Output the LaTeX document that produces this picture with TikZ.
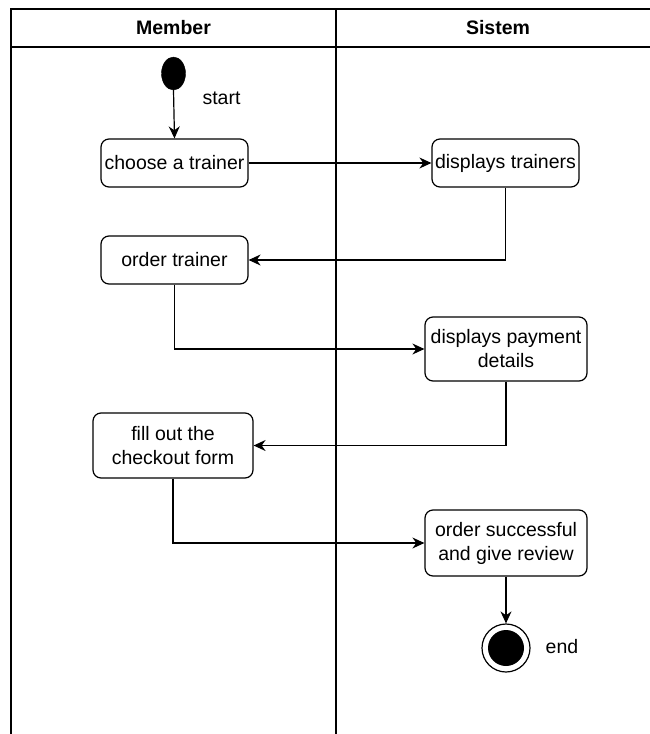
\documentclass[tikz,border=0pt]{standalone}
\usepackage{fontspec}
\setmainfont{Liberation Sans}
\usetikzlibrary{arrows.meta,shapes.geometric}
\begin{document}
\begin{tikzpicture}[x=1pt,y=-1pt,
  lane/.style={line width=1.2pt},
  act/.style={draw,line width=1.2pt,rounded corners=8pt,inner sep=0pt,align=center,
    font=\fontsize{19.5}{24}\selectfont},
  lbl/.style={font=\fontsize{19.5}{24}\selectfont,inner sep=0pt},
  hdr/.style={font=\bfseries\fontsize{19.5}{24}\selectfont,inner sep=0pt},
  flow/.style={line width=1.2pt,-{Stealth[length=12pt,width=11pt]}}]
\useasboundingbox (0,0) rectangle (649,734);
% swimlanes
\coordinate (tl) at (11,9);
\coordinate (tr) at (652,9);
\coordinate (hl) at (11,47);
\coordinate (hr) at (652,47);
\coordinate (bl) at (11,736);
\coordinate (dt) at (336,9);
\coordinate (db) at (336,736);
\draw[lane] (bl) -- (tl) -- (tr);
\draw[lane] (hl) -- (hr);
\draw[lane] (dt) -- (db);
\node[hdr] (hm) at (173.5,28) {Member};
\node[hdr] (hs) at (498,28) {Sistem};
% nodes
\node[ellipse,fill=black,draw,minimum width=24pt,minimum height=33pt,inner sep=0pt] (start) at (173.5,73.5) {};
\node[lbl] (startl) at (221.5,98) {start};
\node[act,minimum width=147pt,minimum height=48pt] (choose) at (174.5,163) {choose a trainer};
\node[act,minimum width=147pt,minimum height=48pt] (dtrain) at (505.5,163) {displays trainers};
\node[act,minimum width=147pt,minimum height=48pt] (order) at (174.5,260) {order trainer};
\node[act,minimum width=162pt,minimum height=64pt] (pay) at (506,349) {displays payment\\details};
\node[act,minimum width=160pt,minimum height=65pt] (fill) at (173,445.5) {fill out the\\checkout form};
\node[act,minimum width=162pt,minimum height=66pt] (succ) at (506,543) {order successful\\and give review};
\node[circle,draw,line width=1.2pt,minimum size=48pt,inner sep=0pt] (end) at (506,648) {};
\node[circle,fill=black,minimum size=36pt,inner sep=0pt] (endin) at (end.center) {};
\node[lbl] (endl) at (562,647) {end};
% flows
\draw[flow] (start.south) -- (choose.north);
\draw[flow] (choose) -- (dtrain);
\draw[flow] (dtrain.south) |- (order.east);
\draw[flow] (order.south) |- (pay.west);
\draw[flow] (pay.south) |- (fill.east);
\draw[flow] (fill.south) |- (succ.west);
\draw[flow] (succ) -- (end);
\end{tikzpicture}
\end{document}
